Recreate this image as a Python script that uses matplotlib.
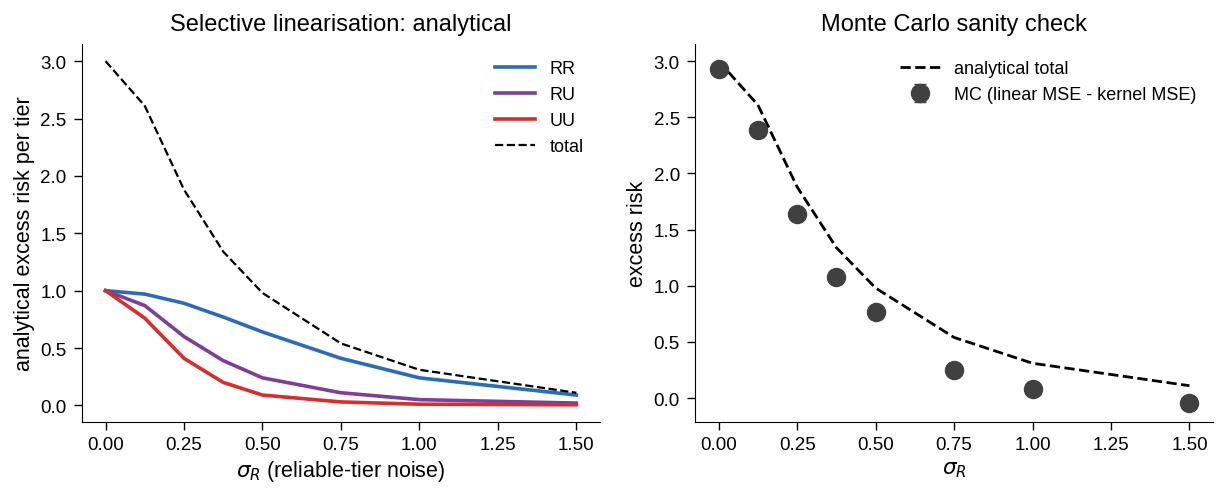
import matplotlib
matplotlib.use("Agg")
import matplotlib.pyplot as plt
import numpy as np

# sigma_R grid
sigma_r = [0.0, 0.125, 0.25, 0.375, 0.5, 0.75, 1.0, 1.5]

# analytical excess risk per tier
rr = [1.00, 0.97, 0.89, 0.77, 0.64, 0.41, 0.24, 0.09]
ru = [1.00, 0.87, 0.60, 0.39, 0.24, 0.11, 0.05, 0.02]
uu = [1.00, 0.76, 0.41, 0.20, 0.09, 0.03, 0.01, 0.005]
total = [3.00, 2.61, 1.88, 1.34, 0.98, 0.54, 0.31, 0.11]

# Monte Carlo estimate (linear MSE - kernel MSE)
mc_mean = [2.93, 2.39, 1.64, 1.08, 0.77, 0.25, 0.08, -0.04]
mc_err = [0.02, 0.02, 0.02, 0.02, 0.02, 0.02, 0.02, 0.02]

plt.rcParams['font.family'] = ['Liberation Sans', 'DejaVu Sans']
plt.rcParams['font.size'] = 13

fig, (ax1, ax2) = plt.subplots(1, 2, figsize=(12.24, 4.89), dpi=100)
fig.subplots_adjust(left=0.067, right=0.991, bottom=0.135, top=0.908, wspace=0.184)

# left panel
ax1.plot(sigma_r, rr, color='#2b6cb6', lw=2.6, label='RR')
ax1.plot(sigma_r, ru, color='#7d3f98', lw=2.6, label='RU')
ax1.plot(sigma_r, uu, color='#d62f2b', lw=2.6, label='UU')
ax1.plot(sigma_r, total, color='black', lw=1.6, ls='--', label='total')
ax1.set_xlabel(r'$\sigma_R$ (reliable-tier noise)', fontsize=15.5)
ax1.set_ylabel('analytical excess risk per tier', fontsize=15.5)
ax1.set_title('Selective linearisation: analytical', fontsize=17, pad=10)
ax1.legend(frameon=False, fontsize=13, handlelength=2.2)

# right panel
ax2.plot(sigma_r, total, color='black', lw=2, ls='--', label='analytical total')
ax2.errorbar(sigma_r, mc_mean, yerr=mc_err, fmt='o', color='#404040',
             markersize=13, capsize=4, label='MC (linear MSE - kernel MSE)')
ax2.set_xlabel(r'$\sigma_R$', fontsize=15.5)
ax2.set_ylabel('excess risk', fontsize=15.5)
ax2.set_title('Monte Carlo sanity check', fontsize=17, pad=10)
ax2.legend(frameon=False, fontsize=13, loc='upper right', handlelength=2.2)

for ax in (ax1, ax2):
    ax.spines['top'].set_visible(False)
    ax.spines['right'].set_visible(False)
    ax.set_xticks([0, 0.25, 0.5, 0.75, 1.0, 1.25, 1.5])
    ax.set_yticks([0, 0.5, 1.0, 1.5, 2.0, 2.5, 3.0])
    ax.tick_params(labelsize=13.5, length=6, width=1, pad=5)
    ax.tick_params(axis='x', pad=4)

fig.savefig('out.png', dpi=100)
